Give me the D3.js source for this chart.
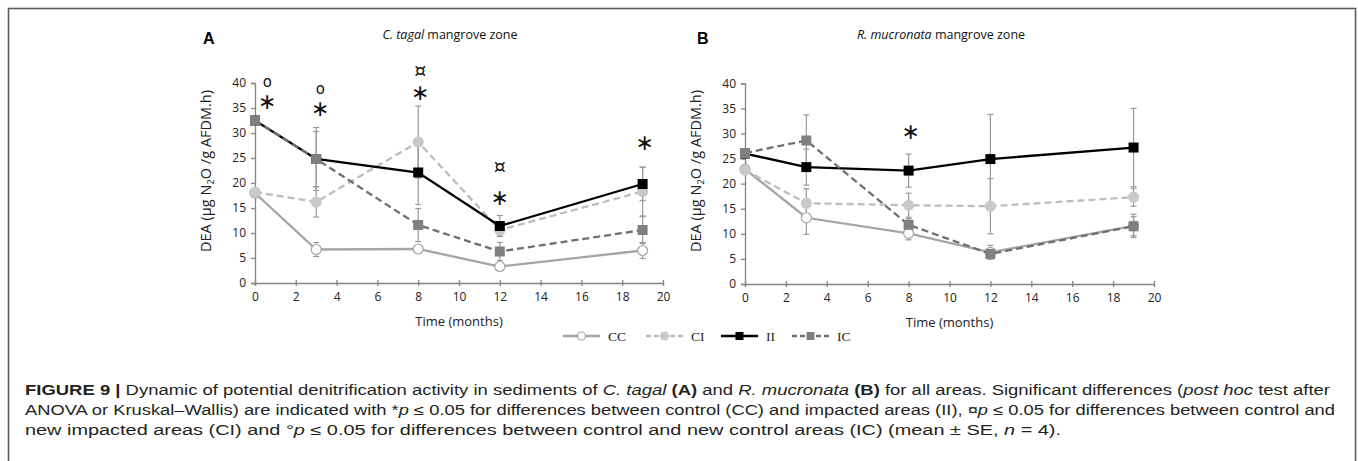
<!DOCTYPE html>
<html><head><meta charset="utf-8">
<script src="https://cdn.jsdelivr.net/npm/d3@7"></script>
<style>body{margin:0;background:#fff}svg{display:block}</style>
</head><body>
<svg id="c" width="1358" height="461"></svg>
<script>
const months = [0, 3, 8, 12, 19];
const seriesNames = ["CC", "CI", "II", "IC"];
const xTicks = [0, 2, 4, 6, 8, 10, 12, 14, 16, 18, 20];
const yTicks = [0, 5, 10, 15, 20, 25, 30, 35, 40];

// Panel A: C. tagal
const aCC = [18.0, 6.7, 6.8, 3.3, 6.5];
const aCCse = [0.6, 1.4, 0.5, 0.6, 1.6];
const aCI = [18.2, 16.2, 28.2, 10.6, 18.3];
const aCIse = [0.8, 3.0, 7.2, 1.2, 4.9];
const aII = [32.5, 24.8, 22.1, 11.4, 19.8];
const aIIse = [0.5, 5.5, 6.4, 2.1, 3.3];
const aIC = [32.5, 24.8, 11.6, 6.3, 10.6];
const aICse = [0.5, 6.3, 3.3, 1.8, 2.7];

// Panel B: R. mucronata
const bCC = [22.9, 13.2, 10.1, 6.3, 11.6];
const bCCse = [0.6, 3.3, 1.3, 1.4, 2.3];
const bCI = [22.7, 16.1, 15.7, 15.5, 17.3];
const bCIse = [0.6, 2.9, 2.4, 5.5, 1.8];
const bII = [26.0, 23.3, 22.6, 24.9, 27.2];
const bIIse = [0.5, 3.6, 3.3, 8.9, 7.8];
const bIC = [26.1, 28.6, 11.8, 6.0, 11.5];
const bICse = [0.5, 5.1, 1.2, 0.6, 1.9];

// significance marks (month, DEA level, symbol)
const sigA = [
  [0.6, 40.0, "o"], [0.6, 36.4, "∗"],
  [3.2, 38.6, "o"], [3.2, 35.0, "∗"],
  [8.1, 42.4, "¤"], [8.1, 38.2, "∗"],
  [12.0, 23.2, "¤"], [12.0, 17.2, "∗"],
  [19.1, 28.2, "∗"]
];
const sigB = [[8.1, 30.3, "∗"]];

const styles = {
  CC: {stroke: "#a5a5a5", dash: null, width: 2.3, shape: "circle", fill: "#ffffff", mstroke: "#a5a5a5"},
  CI: {stroke: "#bdbdbd", dash: "7,4", width: 2.3, shape: "circle", fill: "#c9c9c9", mstroke: "#c9c9c9"},
  II: {stroke: "#000000", dash: null, width: 2.3, shape: "square", fill: "#000000", mstroke: "#000000"},
  IC: {stroke: "#6f6f6f", dash: "7,4", width: 2.3, shape: "square", fill: "#808080", mstroke: "#808080"}
};

const svg = d3.select("#c");
svg.append("rect").attr("x", 8.5).attr("y", 8.5).attr("width", 1347).attr("height", 470)
  .attr("fill", "none").attr("stroke", "#5a5a5a").attr("stroke-width", 1.6);

const axisFont = "Open Sans, Lato, sans-serif";

function panel(opt) {
  const x = d3.scaleLinear().domain([0, 20]).range([opt.x0, opt.x1]);
  const y = d3.scaleLinear().domain([0, 40]).range([opt.y0, opt.y1]);
  const g = svg.append("g");

  const xa = g.append("g").attr("transform", `translate(0,${opt.y0})`)
    .call(d3.axisBottom(x).tickValues(xTicks).tickSize(3).tickPadding(6).tickFormat(d3.format("d")));
  const ya = g.append("g").attr("transform", `translate(${opt.x0},0)`)
    .call(d3.axisLeft(y).tickValues(yTicks).tickSize(4).tickPadding(5).tickFormat(d3.format("d")));
  [xa, ya].forEach(a => {
    a.select(".domain").attr("stroke", "#868686").attr("stroke-width", 1.3);
    a.selectAll(".tick line").attr("stroke", "#868686").attr("stroke-width", 1.3);
    a.selectAll(".tick text").attr("font-family", axisFont).attr("font-size", 12).attr("fill", "#222");
  });
  xa.selectAll(".tick line").attr("y1", -3).attr("y2", 3);

  g.append("text").attr("x", (opt.x0 + opt.x1) / 2).attr("y", opt.y0 + 43)
    .attr("text-anchor", "middle").attr("font-family", axisFont).attr("font-size", 13).attr("fill", "#222")
    .text("Time (months)");

  const yl = g.append("text").attr("transform", `translate(${opt.x0 - 44},171) rotate(-90)`)
    .attr("text-anchor", "middle").attr("font-family", axisFont).attr("font-size", 14.5).attr("fill", "#222");
  yl.append("tspan").text("DEA (µg N");
  yl.append("tspan").attr("font-size", 9.5).attr("dy", 3).text("2");
  yl.append("tspan").attr("dy", -3).text("O /g AFDM.h)");

  g.append("text").attr("x", opt.letterX).attr("y", 44).attr("font-family", "Liberation Sans, Arial, sans-serif")
    .attr("font-weight", "bold").attr("font-size", 16).attr("fill", "#000").text(opt.letter);
  const tt = g.append("text").attr("x", opt.titleX).attr("y", 39).attr("text-anchor", "middle")
    .attr("font-family", axisFont).attr("font-size", 12.5).attr("fill", "#111");
  tt.append("tspan").attr("font-style", "italic").text(opt.italic);
  tt.append("tspan").text(" mangrove zone");

  const line = d3.line().x((d, i) => x(months[i])).y(d => y(d));

  opt.series.forEach(s => {
    const eb = g.append("g").attr("stroke", "#9a9a9a").attr("stroke-width", 1.2);
    s.vals.forEach((v, i) => {
      const lo = v - s.se[i], hi = v + s.se[i];
      const cx = x(months[i]);
      eb.append("line").attr("x1", cx).attr("x2", cx).attr("y1", y(lo)).attr("y2", y(hi));
      eb.append("line").attr("x1", cx - 3).attr("x2", cx + 3).attr("y1", y(lo)).attr("y2", y(lo));
      eb.append("line").attr("x1", cx - 3).attr("x2", cx + 3).attr("y1", y(hi)).attr("y2", y(hi));
    });
  });
  opt.series.forEach(s => {
    const st = styles[s.name];
    g.append("path").datum(s.vals).attr("d", line).attr("fill", "none")
      .attr("stroke", st.stroke).attr("stroke-width", st.width)
      .attr("stroke-dasharray", st.dash);
    s.vals.forEach((v, i) => {
      const cx = x(months[i]), cy = y(v);
      if (st.shape === "circle") {
        g.append("circle").attr("cx", cx).attr("cy", cy).attr("r", 5)
          .attr("fill", st.fill).attr("stroke", st.mstroke).attr("stroke-width", 1.2);
      } else {
        g.append("rect").attr("x", cx - 5).attr("y", cy - 5).attr("width", 10).attr("height", 10)
          .attr("fill", st.fill);
      }
    });
  });

  opt.sig.forEach(([t, lvl, sym]) => {
    const cx = x(t), cy = y(lvl);
    const txt = g.append("text").attr("x", cx).attr("text-anchor", "middle").attr("fill", "#111")
      .attr("font-family", "DejaVu Sans, sans-serif").text(sym);
    if (sym === "∗") {
      txt.attr("font-size", 22).attr("y", cy + 7.5);
    } else if (sym === "o") {
      txt.attr("font-size", 15).attr("y", cy + 4);
    } else {
      txt.attr("font-size", 19).attr("y", cy + 6);
    }
  });
}

panel({x0: 255, x1: 663, y0: 283, y1: 83, letter: "A", letterX: 203, titleX: 450, italic: "C. tagal",
  series: [{name: "CC", vals: aCC, se: aCCse}, {name: "CI", vals: aCI, se: aCIse},
           {name: "II", vals: aII, se: aIIse}, {name: "IC", vals: aIC, se: aICse}], sig: sigA});
panel({x0: 745, x1: 1154, y0: 284, y1: 83.3, letter: "B", letterX: 697, titleX: 941, italic: "R. mucronata",
  series: [{name: "CC", vals: bCC, se: bCCse}, {name: "CI", vals: bCI, se: bCIse},
           {name: "II", vals: bII, se: bIIse}, {name: "IC", vals: bIC, se: bICse}], sig: sigB});

// legend
const legX = [563, 646, 721, 792];
const lg = svg.append("g");
seriesNames.forEach((n, i) => {
  const st = styles[n];
  const x0 = legX[i], ly = 336;
  lg.append("line").attr("x1", x0).attr("x2", x0 + 37).attr("y1", ly).attr("y2", ly)
    .attr("stroke", st.stroke).attr("stroke-width", st.width).attr("stroke-dasharray", st.dash ? "5,3" : null);
  if (st.shape === "circle") {
    lg.append("circle").attr("cx", x0 + 18.5).attr("cy", ly).attr("r", 4)
      .attr("fill", st.fill).attr("stroke", st.mstroke).attr("stroke-width", 1.2);
  } else {
    lg.append("rect").attr("x", x0 + 14.5).attr("y", ly - 4).attr("width", 8).attr("height", 8).attr("fill", st.fill);
  }
  lg.append("text").attr("x", x0 + 45).attr("y", ly + 4.5).attr("font-family", "Liberation Serif, serif")
    .attr("font-size", 13.5).attr("fill", "#222").text(n);
});

// caption
const capFont = "Liberation Sans, Arial, sans-serif";
const capLines = [
  {y: 395, len: 1305, parts: [["FIGURE 9 |", "b"], [" Dynamic of potential denitrification activity in sediments of ", ""], ["C. tagal", "i"], [" ", ""], ["(A)", "b"], [" and ", ""], ["R. mucronata", "i"], [" ", ""], ["(B)", "b"], [" for all areas. Significant differences (", ""], ["post hoc", "i"], [" test after", ""]]},
  {y: 415, len: 1310, parts: [["ANOVA or Kruskal–Wallis) are indicated with *", ""], ["p", "i"], [" ≤ 0.05 for differences between control (CC) and impacted areas (II), ¤", ""], ["p", "i"], [" ≤ 0.05 for differences between control and", ""]]},
  {y: 435, len: 1036, parts: [["new impacted areas (CI) and °", ""], ["p", "i"], [" ≤ 0.05 for differences between control and new control areas (IC) (mean ± SE, ", ""], ["n", "i"], [" = 4).", ""]]}
];
capLines.forEach(l => {
  const t = svg.append("text").attr("x", 25).attr("y", l.y).attr("font-family", capFont)
    .attr("font-size", 14).attr("fill", "#231f20")
    .attr("textLength", l.len).attr("lengthAdjust", "spacingAndGlyphs");
  l.parts.forEach(([s, f]) => {
    const ts = t.append("tspan").text(s);
    if (f === "b") ts.attr("font-weight", "bold");
    if (f === "i") ts.attr("font-style", "italic");
  });
});
</script>
</body></html>
